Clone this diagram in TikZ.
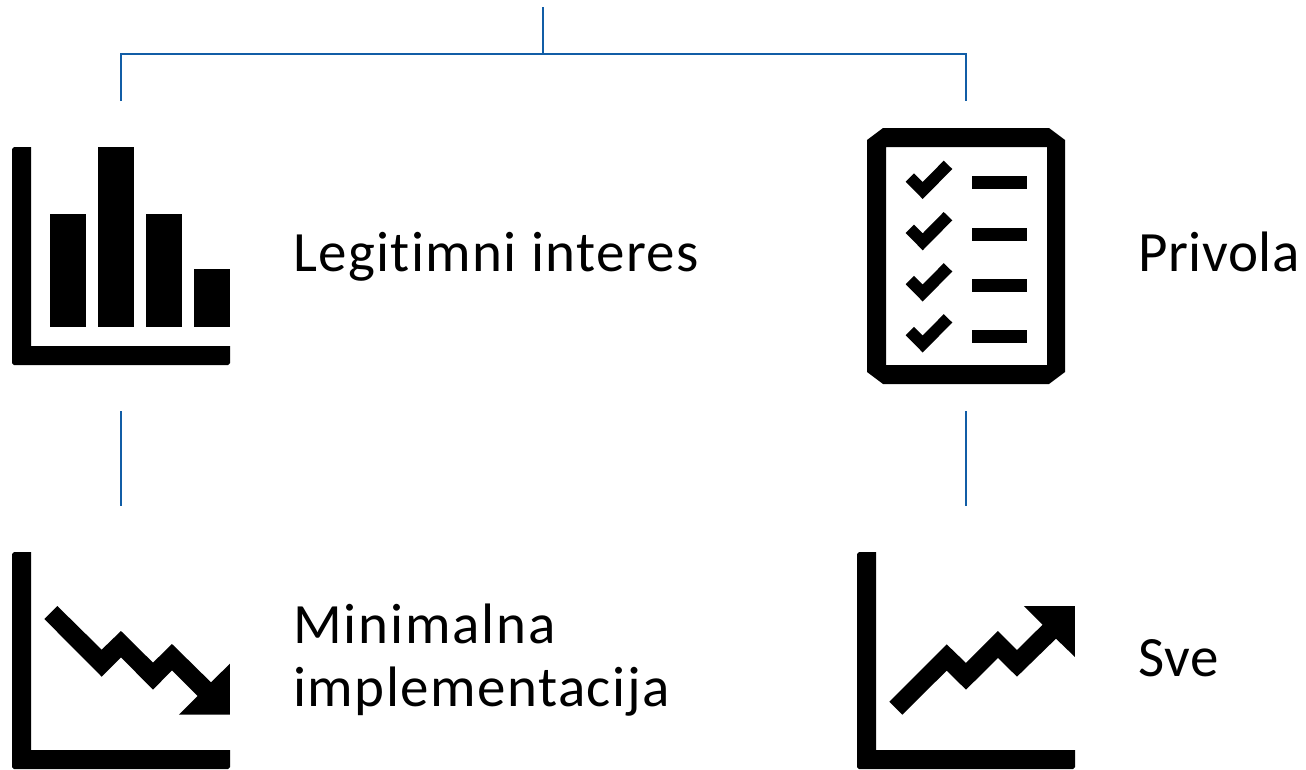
\documentclass[tikz,border=0pt]{standalone}
\usepackage{fontspec}
\setmainfont{Carlito}[Ligatures=NoCommon]
\newfontfamily\spA{Carlito}[LetterSpace=2.4,Ligatures=NoCommon]
\newfontfamily\spB{Carlito}[LetterSpace=1.0,Ligatures=NoCommon]
\newfontfamily\spC{Carlito}[LetterSpace=3.2,Ligatures=NoCommon]
\newfontfamily\spD{Carlito}[LetterSpace=2.6,Ligatures=NoCommon]
\definecolor{linkblue}{HTML}{115DA6}
\tikzset{
  link/.style={draw=linkblue,line width=2.6pt},
  icon/.style={fill=black,draw=none},
  lab/.style={anchor=base west,inner sep=0pt,align=left}
}
\newcommand{\labsize}{\fontsize{57}{60}\selectfont}
\begin{document}
\begin{tikzpicture}[x=1pt,y=-1pt]
\useasboundingbox (0,0) rectangle (1306,769);
\coordinate (top) at (543,7);
\coordinate (bus) at (543,54);
\coordinate (lbus) at (121,54);
\coordinate (rbus) at (966,54);
\coordinate (lend) at (121,101);
\coordinate (rend) at (966,101);
\coordinate (l2a) at (121,411);
\coordinate (l2b) at (121,505.5);
\coordinate (r2a) at (966,411);
\coordinate (r2b) at (966,505.5);
\draw[link] (top) -- (bus);
\draw[link,line join=miter] (lend) -- (lbus) -- (rbus) -- (rend);
\draw[link] (l2a) -- (l2b);
\draw[link] (r2a) -- (r2b);
% bar chart
\fill[icon] (14,147) -- (31,147) -- (31,346) -- (230,346) -- (230,363) -- (228,365) -- (14,365) -- (12,363) -- (12,149) -- cycle;
\fill[icon] (50,214) rectangle (86,327);
\fill[icon] (98,147) rectangle (134,327);
\fill[icon] (146,214) rectangle (182,327);
\fill[icon] (194,269) rectangle (230,327);
% checklist
\fill[icon,even odd rule] (883,128) -- (1049,128) -- (1065,140) -- (1065,372) -- (1049,384) -- (883,384) -- (867,372) -- (867,140) -- cycle
  (886,147) rectangle (1047,365);
\foreach \dy/\by in {0/176,51.3/228,102.5/279,153.5/330}{
  \fill[icon] (905.7,181.7+\dy) -- (914,173.3+\dy) -- (922.7,182+\dy) -- (943.7,160.7+\dy) -- (952.3,169+\dy) -- (922.7,199+\dy) -- cycle;
  \fill[icon] (972,\by) rectangle (1027,\by+13);
}
% falling chart
\fill[icon] (14,552) -- (31,552) -- (31,750) -- (230,750) -- (230,767) -- (228,769) -- (14,769) -- (12,767) -- (12,554) -- cycle;
\begin{scope}[shift={(0,540)},x=0.3333pt,y=-0.3333pt]
\fill[icon] (172,198) -- (305,329) -- (363,273) -- (459,368) -- (516,312) -- (633,427) -- (690,371) -- (690,524) -- (537,524) -- (593,468) -- (516,391) -- (459,449) -- (363,352) -- (305,410) -- (133,237) -- cycle;
\end{scope}
% rising chart
\fill[icon] (859,552) -- (876,552) -- (876,750) -- (1075,750) -- (1075,767) -- (1073,769) -- (859,769) -- (857,767) -- (857,554) -- cycle;
\begin{scope}[shift={(845,540)},x=0.3333pt,y=-0.3333pt]
\fill[icon] (133,485) -- (305,313) -- (363,369) -- (459,273) -- (516,330) -- (593,254) -- (537,198) -- (690,198) -- (690,351) -- (633,296) -- (516,410) -- (459,354) -- (363,449) -- (305,392) -- (172,524) -- cycle;
\end{scope}
\node[lab] (legit) at (293,271) {\spA\labsize Legitimni interes};
\node[lab] (priv) at (1138,271) {\spB\labsize Privola};
\node[lab] (mini) at (293,643) {\spC\labsize Minimalna};
\node[lab] (impl) at (293,706) {\spD\labsize implementacija};
\node[lab] (sve) at (1138,676) {\spB\labsize Sve};
\end{tikzpicture}
\end{document}
